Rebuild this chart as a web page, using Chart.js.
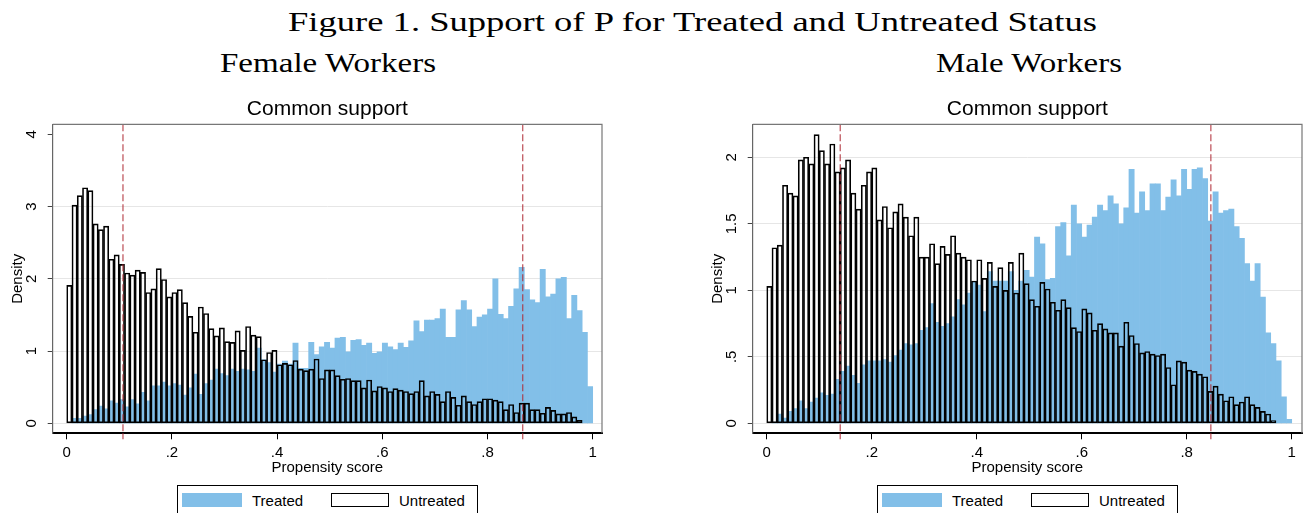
<!DOCTYPE html>
<html>
<head>
<meta charset="utf-8">
<script src="https://cdn.jsdelivr.net/npm/chart.js@4.4.0/dist/chart.umd.min.js"></script>
<style>
  html, body { margin:0; padding:0; background:#fff; }
  body { width:1307px; height:513px; position:relative; overflow:hidden; font-family:"Liberation Sans", Arial, sans-serif; }
  .serif { position:absolute; font-family:"Liberation Serif", "Times New Roman", serif; white-space:nowrap; line-height:1; transform-origin:0 0; color:#000; }
  canvas { position:absolute; }
  .lgbox { position:absolute; border:1px solid #000; box-sizing:border-box; background:#fff; }
  .sw { position:absolute; box-sizing:border-box; }
  .lgtxt { position:absolute; font-size:15px; line-height:1; color:#000; white-space:nowrap; }
</style>
</head>
<body>
<div id="mainTitle" class="serif" style="font-size:28px">Figure 1. Support of P for Treated and Untreated Status</div>
<div id="subF" class="serif" style="font-size:28px">Female Workers</div>
<div id="subM" class="serif" style="font-size:28px">Male Workers</div>

<canvas id="cF" width="610" height="395" style="left:0px; top:90px;"></canvas>
<canvas id="cM" width="607" height="395" style="left:700px; top:90px;"></canvas>

<div class="lgbox" style="left:177px; top:485px; width:301px; height:40px;"></div>
<div class="sw" style="left:182px; top:493px; width:60px; height:14px; background:#82bfe8;"></div>
<div class="lgtxt" style="left:252px; top:493px;">Treated</div>
<div class="sw" style="left:331px; top:493px; width:58px; height:14px; border:1px solid #000; background:#fff;"></div>
<div class="lgtxt" style="left:399px; top:493px;">Untreated</div>

<div class="lgbox" style="left:877px; top:485px; width:301px; height:40px;"></div>
<div class="sw" style="left:882px; top:493px; width:60px; height:14px; background:#82bfe8;"></div>
<div class="lgtxt" style="left:952px; top:493px;">Treated</div>
<div class="sw" style="left:1031px; top:493px; width:58px; height:14px; border:1px solid #000; background:#fff;"></div>
<div class="lgtxt" style="left:1099px; top:493px;">Untreated</div>

<script>
// ---------------- DATA ----------------
const binCenters = [
 0.005,0.015,0.025,0.035,0.045,0.055,0.065,0.075,0.085,0.095,
 0.105,0.115,0.125,0.135,0.145,0.155,0.165,0.175,0.185,0.195,
 0.205,0.215,0.225,0.235,0.245,0.255,0.265,0.275,0.285,0.295,
 0.305,0.315,0.325,0.335,0.345,0.355,0.365,0.375,0.385,0.395,
 0.405,0.415,0.425,0.435,0.445,0.455,0.465,0.475,0.485,0.495,
 0.505,0.515,0.525,0.535,0.545,0.555,0.565,0.575,0.585,0.595,
 0.605,0.615,0.625,0.635,0.645,0.655,0.665,0.675,0.685,0.695,
 0.705,0.715,0.725,0.735,0.745,0.755,0.765,0.775,0.785,0.795,
 0.805,0.815,0.825,0.835,0.845,0.855,0.865,0.875,0.885,0.895,
 0.905,0.915,0.925,0.935,0.945,0.955,0.965,0.975,0.985,0.995];

const femaleTreated = [
 0, 0.07, 0.07, 0.10, 0.12, 0.19, 0.24, 0.20, 0.31, 0.28,
 0.33, 0.23, 0.33, 0.27, 0.43, 0.31, 0.52, 0.52, 0.57, 0.52,
 0.55, 0.53, 0.39, 0.49, 0.68, 0.40, 0.55, 0.60, 0.75, 0.69,
 0.66, 0.75, 0.72, 0.75, 0.74, 0.72, 1.04, 0.88, 0.84, 0.71,
 0.82, 0.86, 0.82, 1.11, 0.76, 0.76, 1.12, 0.95, 1.06, 1.12,
 1.04, 1.18, 1.19, 0.99, 1.15, 1.16, 1.08, 1.11, 0.97, 0.99,
 1.11, 1.06, 1.02, 1.11, 1.05, 1.14, 1.42, 1.27, 1.43, 1.43,
 1.45, 1.58, 1.19, 1.19, 1.57, 1.70, 1.57, 1.34, 1.47, 1.50,
 1.58, 2.00, 1.51, 1.45, 1.62, 1.86, 2.16, 1.85, 1.71, 1.67,
 2.13, 1.75, 1.79, 2.00, 2.02, 1.45, 1.77, 1.56, 1.26, 0.51];

const femaleUntreated = [
 1.91, 3.02, 3.15, 3.26, 3.22, 2.76, 2.68, 2.73, 2.27, 2.33,
 2.20, 2.08, 2.05, 2.12, 2.09, 1.81, 1.86, 2.14, 1.99, 1.75,
 1.81, 1.85, 1.67, 1.48, 1.26, 1.61, 1.52, 1.31, 1.21, 1.32,
 1.13, 1.12, 1.28, 1.01, 1.34, 1.22, 1.20, 0.88, 0.98, 1.01,
 0.81, 0.83, 0.81, 0.87, 0.75, 0.73, 0.75, 0.89, 0.62, 0.74,
 0.74, 0.66, 0.61, 0.62, 0.59, 0.59, 0.49, 0.60, 0.45, 0.51,
 0.49, 0.44, 0.48, 0.46, 0.44, 0.41, 0.44, 0.59, 0.38, 0.44,
 0.40, 0.30, 0.44, 0.36, 0.25, 0.38, 0.30, 0.26, 0.30, 0.34,
 0.34, 0.32, 0.30, 0.19, 0.26, 0.15, 0.28, 0.28, 0.19, 0.19,
 0.14, 0.22, 0.18, 0.13, 0.13, 0.15, 0.09, 0.04, 0, 0];

const maleTreated = [
 0, 0.01, 0.07, 0.04, 0.09, 0.11, 0.17, 0.11, 0.16, 0.19,
 0.23, 0.21, 0.22, 0.33, 0.39, 0.43, 0.36, 0.30, 0.44, 0.47,
 0.47, 0.47, 0.48, 0.46, 0.51, 0.55, 0.60, 0.59, 0.60, 0.70,
 0.72, 0.90, 0.76, 0.73, 0.75, 0.80, 0.93, 0.89, 0.98, 1.06,
 1.04, 0.84, 1.14, 1.07, 1.07, 1.07, 1.14, 1.00, 1.07, 1.15,
 1.10, 1.40, 1.35, 1.08, 1.09, 1.48, 1.51, 1.26, 1.64, 1.50,
 1.40, 1.49, 1.55, 1.64, 1.60, 1.71, 1.65, 1.50, 1.62, 1.91,
 1.58, 1.74, 1.60, 1.80, 1.80, 1.60, 1.70, 1.83, 1.71, 1.91,
 1.76, 1.91, 1.92, 1.84, 1.52, 1.74, 1.58, 1.60, 1.61, 1.48,
 1.39, 1.20, 1.07, 1.20, 0.95, 0.68, 0.60, 0.47, 0.20, 0.03];

const maleUntreated = [
 1.03, 1.32, 1.34, 1.79, 1.73, 1.71, 1.98, 2.00, 1.95, 2.17,
 2.05, 1.95, 2.10, 1.89, 1.92, 1.98, 1.73, 1.61, 1.79, 1.89,
 1.92, 1.53, 1.63, 1.47, 1.59, 1.65, 1.55, 1.41, 1.55, 1.25,
 1.25, 1.35, 1.20, 1.33, 1.27, 1.41, 1.28, 1.25, 1.23, 1.07,
 1.23, 1.09, 1.21, 1.03, 1.17, 1.00, 1.21, 0.98, 1.28, 1.05,
 0.93, 0.88, 1.06, 1.01, 0.91, 0.85, 0.93, 0.87, 0.72, 0.69,
 0.86, 0.83, 0.70, 0.75, 0.71, 0.68, 0.68, 0.58, 0.76, 0.66,
 0.60, 0.53, 0.54, 0.52, 0.51, 0.52, 0.42, 0.29, 0.47, 0.46,
 0.40, 0.39, 0.37, 0.35, 0.24, 0.28, 0.22, 0.17, 0.20, 0.14,
 0.16, 0.20, 0.14, 0.12, 0.09, 0.07, 0.02, 0, 0, 0];

const xTickValues = [0, 0.2, 0.4, 0.6, 0.8, 1];
const femaleYTicks = [0, 1, 2, 3, 4];
const maleYTicks = [0, 0.5, 1, 1.5, 2];
const femaleSupport = [0.107, 0.867];
const maleSupport = [0.140, 0.846];
const seriesNames = ['Treated', 'Untreated'];

// ---------------- STYLE ----------------
const BLUE = '#82bfe8';
const SUPPORT_RED = 'rgba(175,45,55,0.85)';
Chart.defaults.font.family = '"Liberation Sans", Arial, sans-serif';
Chart.defaults.color = '#000';

function fmt(v) {
  let s = String(+v.toFixed(3));
  if (s.startsWith('0.')) s = s.slice(1);
  return s;
}

const frame = {
  id: 'frame',
  afterDatasetsDraw(chart, args, opts) {
    const {ctx, chartArea: a, scales: {x}} = chart;
    ctx.save();
    // support lines (drawn on top of the bars)
    ctx.strokeStyle = SUPPORT_RED;
    ctx.lineWidth = 1.2;
    opts.lines.forEach(v => {
      const px = x.getPixelForValue(v);
      ctx.setLineDash([7, 3]);
      ctx.beginPath(); ctx.moveTo(px, a.top); ctx.lineTo(px, a.bottom); ctx.stroke();
      ctx.setLineDash([]);
      ctx.beginPath(); ctx.moveTo(px, a.bottom); ctx.lineTo(px, a.bottom + 6); ctx.stroke();
    });
    // plot region outline (top / right)
    ctx.strokeStyle = '#777';
    ctx.lineWidth = 1.2;
    ctx.beginPath();
    ctx.moveTo(a.left, a.top); ctx.lineTo(a.right, a.top); ctx.lineTo(a.right, a.bottom);
    ctx.stroke();
    ctx.restore();
  }
};

function makeChart(id, treated, untreated, cfg) {
  const toPts = arr => arr.map((v, i) => ({x: binCenters[i], y: v > 0 ? v : null}));
  return new Chart(document.getElementById(id), {
    type: 'bar',
    data: {
      datasets: [
        { label: seriesNames[1], data: toPts(untreated), backgroundColor: 'rgba(0,0,0,0)',
          borderColor: '#000', borderWidth: 1, borderSkipped: false,
          barPercentage: 1, categoryPercentage: 1, grouped: false },
        { label: seriesNames[0], data: toPts(treated), backgroundColor: BLUE,
          borderWidth: 0, barPercentage: 1, categoryPercentage: 1, grouped: false }
      ]
    },
    options: {
      responsive: false,
      animation: false,
      devicePixelRatio: 1,
      layout: { padding: { left: 0, top: 0, right: cfg.padRight, bottom: 0 } },
      plugins: {
        legend: { display: false },
        tooltip: { enabled: false },
        title: { display: true, text: 'Common support', fullSize: false, color: '#000',
                 font: { size: 21, weight: 'normal', lineHeight: 1.2 }, padding: { top: 6.2, bottom: 2.9 } },
        frame: { lines: cfg.lines }
      },
      scales: {
        x: {
          type: 'linear', offset: false, min: cfg.xMin, max: cfg.xMax,
          afterBuildTicks: s => { s.ticks = xTickValues.map(v => ({value: v})); },
          afterFit: s => { s.height = 51.7; },
          ticks: { callback: v => fmt(v), font: { size: 15 }, color: '#000', padding: 4.7, autoSkip: false, maxRotation: 0, minRotation: 0 },
          grid: { offset: false, drawOnChartArea: false, drawTicks: true, tickLength: 6, tickColor: '#000', color: '#000' },
          border: { display: true, color: '#000', width: 2 },
          title: { display: true, text: 'Propensity score', font: { size: 15, lineHeight: 1.2 }, color: '#000', padding: { top: 0, bottom: 8 } }
        },
        y: {
          type: 'linear', min: cfg.yMin, max: cfg.yMax,
          afterBuildTicks: s => { s.ticks = cfg.yTicks.map(v => ({value: v})); },
          afterFit: s => { s.width = 52.7; },
          ticks: { callback: v => fmt(v), font: { size: 15 }, color: '#000', padding: cfg.yPad,
                   minRotation: 90, maxRotation: 90, crossAlign: 'center', autoSkip: false },
          grid: { offset: false, drawTicks: true, tickLength: 5, tickColor: '#444',
                  color: c => (c.tick && cfg.noGrid.includes(c.tick.value)) ? 'rgba(0,0,0,0)' : '#e6e6e6' },
          border: { display: true, color: '#666', width: 1.2 },
          title: { display: true, text: 'Density', font: { size: 15, lineHeight: 1.2 }, color: '#000', padding: { top: 9.3, bottom: 0 } }
        }
      }
    },
    plugins: [frame]
  });
}

makeChart('cF', femaleTreated, femaleUntreated, {
  padRight: 8, xMin: -0.0266, xMax: 1.0177, yMin: -0.138, yMax: 4.138,
  yTicks: femaleYTicks, yPad: 11.8, lines: femaleSupport, noGrid: [4]
});
makeChart('cM', maleTreated, maleUntreated, {
  padRight: 5, xMin: -0.0267, xMax: 1.0196, yMin: -0.075, yMax: 2.248,
  yTicks: maleYTicks, yPad: 5.3, lines: maleSupport, noGrid: []
});

// ---------------- page titles ----------------
function fitText(id, cx, cy, w) {
  const el = document.getElementById(id);
  const r = el.getBoundingClientRect();
  const s = w / r.width;
  el.style.transform = 'scaleX(' + s + ')';
  el.style.left = (cx - w / 2) + 'px';
  el.style.top = (cy - r.height / 2) + 'px';
}
fitText('mainTitle', 692.5, 22, 809);
fitText('subF', 328, 63, 216);
fitText('subM', 1029, 63, 186);
</script>
</body>
</html>
